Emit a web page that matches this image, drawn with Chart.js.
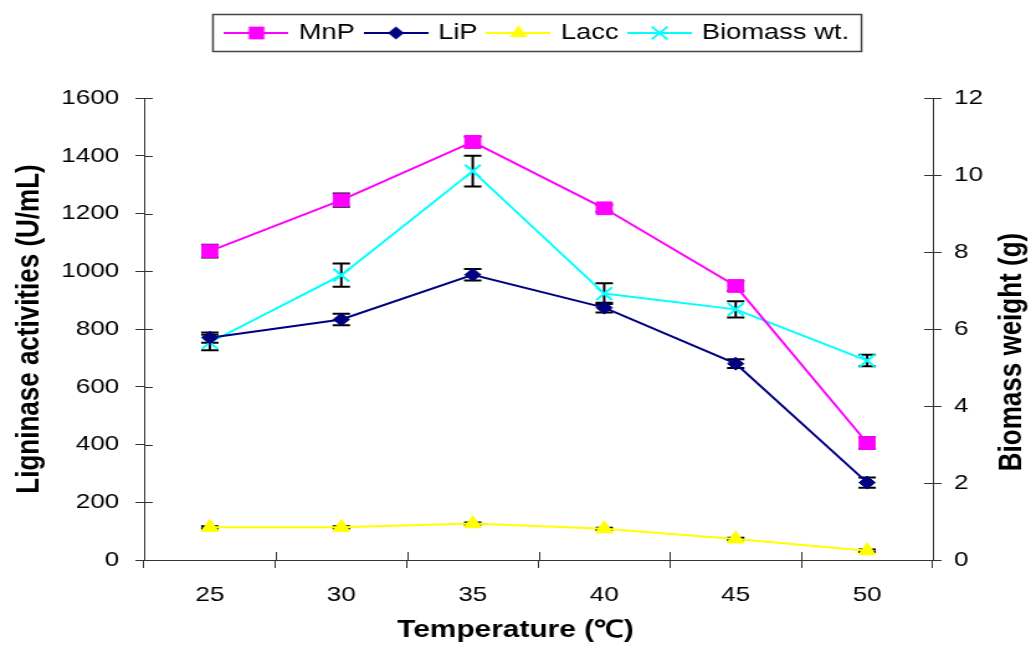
<!DOCTYPE html>
<html lang="en">
<head>
<meta charset="UTF-8">
<title>Ligninase activities and biomass vs temperature</title>
<script src="https://cdn.jsdelivr.net/npm/chart.js"></script>
<style>
    body {
        margin: 0;
        background: #fff;
    }
</style>
</head>
<body>
<!-- the source figure is stretched sideways, so draw narrow and widen the canvas -->
<canvas id="chart" width="830" height="650" style="display:block;width:1031px;height:650px"></canvas>
<script>
    const temperatures = ['25', '30', '35', '40', '45', '50'];

    const mnp = [1070, 1246, 1448, 1218, 949, 405];
    const mnpErr = [22, 23, 19, 12, 17, 20];
    const lip = [770, 833, 988, 874, 680, 268];
    const lipErr = [18, 20, 20, 17, 15, 18];
    const lacc = [113, 113, 126, 108, 73, 32];
    const laccErr = [4, 4, 4, 4, 4, 4];
    const biomass = [5.65, 7.4, 10.1, 6.92, 6.51, 5.18];
    const biomassErr = [0.2, 0.3, 0.4, 0.27, 0.21, 0.15];

    const enzymeTicks = [0, 200, 400, 600, 800, 1000, 1200, 1400, 1600];
    const biomassTicks = [0, 2, 4, 6, 8, 10, 12];

    const FONT = "'Liberation Sans', Arial, sans-serif";
    const AXIS = '#333';

    function drawMarker(g, shape, x, y, r, color) {
        g.save();
        g.fillStyle = color;
        g.strokeStyle = color;
        g.lineWidth = 2;
        g.beginPath();
        if (shape === 'rect') {
            const s = r * Math.SQRT1_2;
            g.rect(x - s, y - s, 2 * s, 2 * s);
            g.fill();
        } else if (shape === 'rectRot') {
            g.moveTo(x - r, y); g.lineTo(x, y - r); g.lineTo(x + r, y); g.lineTo(x, y + r);
            g.closePath();
            g.fill();
        } else if (shape === 'triangle') {
            g.moveTo(x, y - r);
            g.lineTo(x + r * 0.866, y + r / 2);
            g.lineTo(x - r * 0.866, y + r / 2);
            g.closePath();
            g.fill();
        } else {
            const s = r * Math.SQRT1_2;
            g.moveTo(x - s, y - s); g.lineTo(x + s, y + s);
            g.moveTo(x + s, y - s); g.lineTo(x - s, y + s);
            g.stroke();
        }
        g.restore();
    }

    // legend swatch: short line with the marker in the middle
    function legendIcon(color, shape, r) {
        const c = document.createElement('canvas');
        c.width = 52;
        c.height = 24;
        const g = c.getContext('2d');
        g.strokeStyle = color;
        g.lineWidth = 2;
        g.beginPath();
        g.moveTo(0, 12);
        g.lineTo(52, 12);
        g.stroke();
        drawMarker(g, shape, 26, 12, r, color);
        return c;
    }

    const series = [
        { label: 'MnP', data: mnp, err: mnpErr, color: '#ff00ff', shape: 'rect', r: 9, axis: 'y' },
        { label: 'LiP', data: lip, err: lipErr, color: '#000080', shape: 'rectRot', r: 6.5, axis: 'y' },
        { label: 'Lacc', data: lacc, err: laccErr, color: '#ffff00', shape: 'triangle', r: 8, axis: 'y' },
        { label: 'Biomass wt.', data: biomass, err: biomassErr, color: '#00ffff', shape: 'crossRot', r: 9, axis: 'y1' }
    ];
    const icons = series.map(s => legendIcon(s.color, s.shape, s.r));

    const errorBars = {
        id: 'errorBars',
        beforeDatasetsDraw(chart) {
            const ctx = chart.ctx;
            ctx.save();
            ctx.strokeStyle = '#000';
            ctx.lineWidth = 2;
            chart.data.datasets.forEach((ds, i) => {
                const meta = chart.getDatasetMeta(i);
                const scale = chart.scales[ds.yAxisID];
                meta.data.forEach((pt, j) => {
                    const top = scale.getPixelForValue(ds.data[j] + ds.err[j]);
                    const bot = scale.getPixelForValue(ds.data[j] - ds.err[j]);
                    ctx.beginPath();
                    ctx.moveTo(pt.x, top); ctx.lineTo(pt.x, bot);
                    ctx.moveTo(pt.x - 7, top); ctx.lineTo(pt.x + 7, top);
                    ctx.moveTo(pt.x - 7, bot); ctx.lineTo(pt.x + 7, bot);
                    ctx.stroke();
                });
            });
            ctx.restore();
        }
    };

    // inner halves of the crossing tick marks, legend frame, axis titles
    const extras = {
        id: 'extras',
        afterDraw(chart) {
            const ctx = chart.ctx;
            const { x, y, y1 } = chart.scales;
            ctx.save();
            ctx.strokeStyle = AXIS;
            ctx.lineWidth = 1;
            ctx.beginPath();
            y.ticks.forEach(t => {
                const p = Math.round(y.getPixelForValue(t.value)) + 0.5;
                ctx.moveTo(y.right, p); ctx.lineTo(y.right + 7, p);
            });
            y1.ticks.forEach(t => {
                const p = Math.round(y1.getPixelForValue(t.value)) + 0.5;
                ctx.moveTo(y1.left - 7, p); ctx.lineTo(y1.left, p);
            });
            const step = x.getPixelForValue(1) - x.getPixelForValue(0);
            for (let i = 0; i <= temperatures.length; i++) {
                const p = Math.round(x.getPixelForValue(0) - step / 2 + i * step) + 0.5;
                ctx.moveTo(p, x.top - 8); ctx.lineTo(p, x.top);
            }
            ctx.stroke();

            const hb = chart.legend.legendHitBoxes;
            if (hb.length) {
                const last = hb[hb.length - 1];
                const left = hb[0].left - 12;
                const right = last.left + last.width + 10;
                ctx.strokeStyle = '#444';
                ctx.lineWidth = 1.5;
                ctx.strokeRect(left, hb[0].top - 7.5, right - left, hb[0].height + 15);
            }

            ctx.fillStyle = '#000';
            ctx.textAlign = 'center';
            ctx.textBaseline = 'middle';
            // x title sits on the middle of the whole figure, not of the plot
            ctx.font = 'bold 24px ' + FONT;
            ctx.fillText('Temperature (℃)', chart.width / 2, x.bottom - 20);

            ctx.font = 'bold 26px ' + FONT;
            ctx.translate(y1.right - 15, (chart.chartArea.top + chart.chartArea.bottom) / 2 + 23);
            ctx.rotate(-Math.PI / 2);
            ctx.fillText('Biomass weight (g)', 0, 0);
            ctx.restore();
        }
    };

    const plainTick = v => String(v);

    new Chart(document.getElementById('chart'), {
        type: 'line',
        data: {
            labels: temperatures,
            datasets: series.map(s => ({
                label: s.label,
                data: s.data,
                err: s.err,
                yAxisID: s.axis,
                borderColor: s.color,
                backgroundColor: s.color,
                borderWidth: 2,
                pointStyle: s.shape,
                pointRadius: s.r,
                pointBorderWidth: s.shape === 'crossRot' ? 2 : 1,
                pointBackgroundColor: s.color,
                pointBorderColor: s.color,
                tension: 0,
                fill: false
            }))
        },
        options: {
            responsive: false,
            animation: false,
            devicePixelRatio: 1,
            layout: { padding: { top: 12, left: 0, right: 0, bottom: 0 } },
            plugins: {
                legend: {
                    position: 'top',
                    fullSize: false,
                    labels: {
                        usePointStyle: true,
                        pointStyleWidth: 46,
                        padding: 10,
                        color: '#000',
                        font: { family: FONT, size: 22 },
                        generateLabels(chart) {
                            return Chart.defaults.plugins.legend.labels.generateLabels(chart)
                                .map((item, i) => ({ ...item, pointStyle: icons[i] }));
                        }
                    }
                },
                // empty title used as the gap between the legend and the plot
                title: {
                    display: true,
                    text: ' ',
                    weight: 500,
                    font: { size: 10 },
                    padding: { top: 16, bottom: 16 }
                },
                tooltip: { enabled: false }
            },
            scales: {
                x: {
                    type: 'category',
                    offset: true,
                    grid: { offset: true, drawOnChartArea: false, tickLength: 8, color: AXIS },
                    border: { color: AXIS },
                    ticks: { color: '#000', font: { family: FONT, size: 21 }, padding: 15, maxRotation: 0, autoSkip: false },
                    afterFit(scale) { scale.height = 90; }
                },
                y: {
                    position: 'left',
                    min: 0,
                    max: 1600,
                    afterBuildTicks(scale) { scale.ticks = enzymeTicks.map(v => ({ value: v })); },
                    grid: { drawOnChartArea: false, tickLength: 7, color: AXIS },
                    border: { color: AXIS },
                    ticks: { color: '#000', font: { family: FONT, size: 21 }, padding: 13, callback: plainTick },
                    title: {
                        display: true,
                        text: 'Ligninase activities (U/mL)',
                        color: '#000',
                        font: { family: FONT, size: 26, weight: 'bold' },
                        padding: { top: 8, bottom: 0 }
                    },
                    afterFit(scale) { scale.width = 116; }
                },
                y1: {
                    position: 'right',
                    min: 0,
                    max: 12,
                    afterBuildTicks(scale) { scale.ticks = biomassTicks.map(v => ({ value: v })); },
                    grid: { drawOnChartArea: false, tickLength: 7, color: AXIS },
                    border: { color: AXIS },
                    ticks: { color: '#000', font: { family: FONT, size: 21 }, padding: 10, callback: plainTick },
                    afterFit(scale) { scale.width = 79; }
                }
            }
        },
        plugins: [errorBars, extras]
    });
</script>
</body>
</html>
